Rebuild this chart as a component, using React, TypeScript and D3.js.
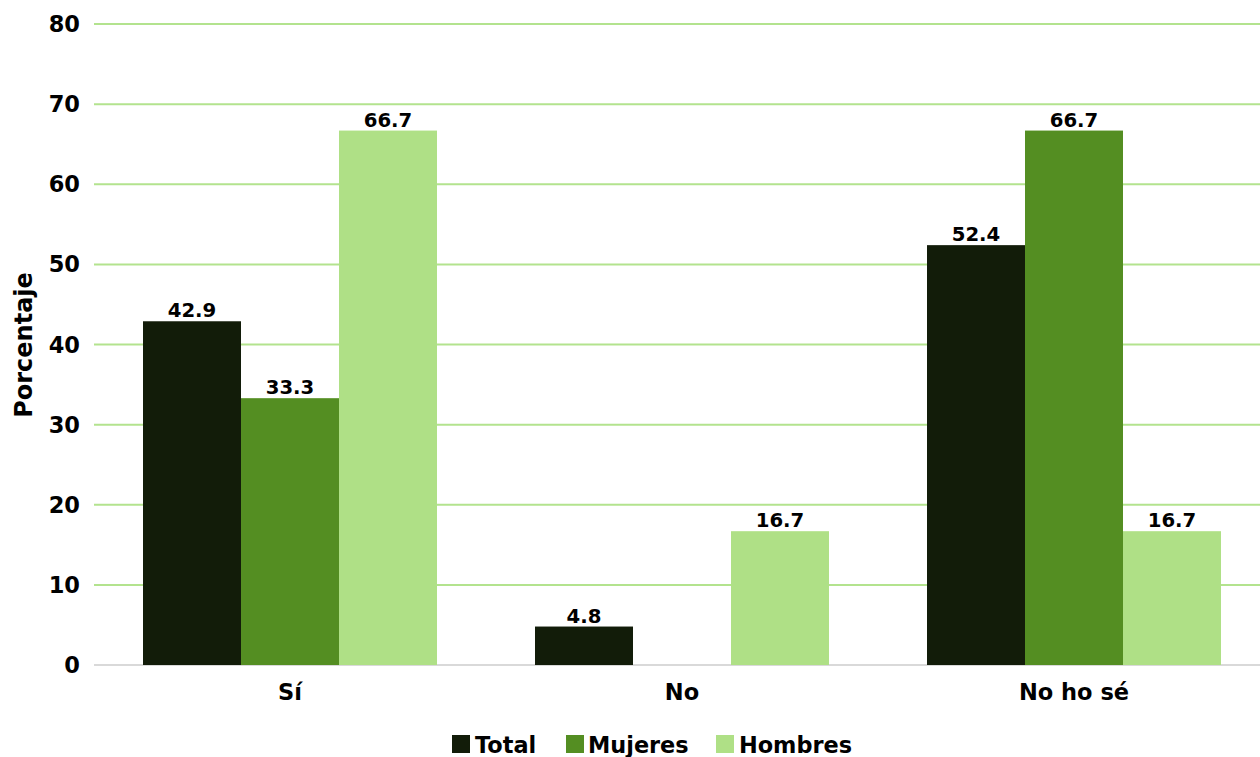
import React from "react";
import * as d3 from "d3";

const categories = ["Sí", "No", "No ho sé"];
const seriesNames = ["Total", "Mujeres", "Hombres"];
const totalValues = [42.9, 4.8, 52.4];
const mujeresValues = [33.3, 0, 66.7];
const hombresValues = [66.7, 16.7, 16.7];
const yTicks = [0, 10, 20, 30, 40, 50, 60, 70, 80];
const colors = ["#121c09", "#548e22", "#afe086"];

const W = 1260;
const H = 757;
const FONT = "'DejaVu Sans', Verdana, sans-serif";

export default function App() {
  const seriesValues = [totalValues, mujeresValues, hombresValues];
  const y = d3.scaleLinear().domain([0, 80]).range([665, 24]);
  const x0 = d3.scaleBand<string>().domain(categories).range([94, 94 + 3 * 392]).padding(0);
  const bw = x0.bandwidth();
  const x1 = d3.scaleBand<string>().domain(seriesNames).range([bw * 0.125, bw * 0.875]).padding(0);

  const legendItems = [
    { name: "Total", sx: 452, tx: 475 },
    { name: "Mujeres", sx: 566, tx: 588 },
    { name: "Hombres", sx: 716, tx: 739 },
  ];

  return (
    <svg width={W} height={H} style={{ position: "absolute", left: 0, top: 0, background: "#fff" }} fontFamily={FONT}>
      {yTicks.map((t) => (
        <g key={t}>
          <line x1={94} x2={W} y1={y(t)} y2={y(t)} stroke={t === 0 ? "#d9d9d9" : "#b3e38e"} strokeWidth={2} />
          <text x={80} y={y(t)} dy="0.36em" textAnchor="end" fontSize={22.5} fontWeight="bold" fill="#000">
            {t}
          </text>
        </g>
      ))}
      <text transform={`translate(32,345) rotate(-90)`} textAnchor="middle" fontSize={24} fontWeight="bold" fill="#000">
        Porcentaje
      </text>
      {categories.map((c, ci) => (
        <g key={c} transform={`translate(${x0(c)},0)`}>
          {seriesNames.map((s, si) => {
            const v = seriesValues[si][ci];
            const bx = x1(s)!;
            const w = x1.bandwidth();
            return (
              <g key={s}>
                {v > 0 && (
                  <rect x={bx} y={y(v)} width={w} height={y(0) - y(v)} fill={colors[si]} />
                )}
                {v > 0 && (
                  <text x={bx + w / 2} y={y(v) - 4} textAnchor="middle" fontSize={19.7} fontWeight="bold" fill="#000">
                    {v.toFixed(1)}
                  </text>
                )}
              </g>
            );
          })}
          <text x={bw / 2} y={700} textAnchor="middle" fontSize={22.5} fontWeight="bold" fill="#000">
            {c}
          </text>
        </g>
      ))}
      {legendItems.map((l, i) => (
        <g key={l.name}>
          <rect x={l.sx} y={735} width={18} height={18} fill={colors[i]} />
          <text x={l.tx} y={753} fontSize={22.4} fontWeight="bold" fill="#000">
            {l.name}
          </text>
        </g>
      ))}
    </svg>
  );
}
